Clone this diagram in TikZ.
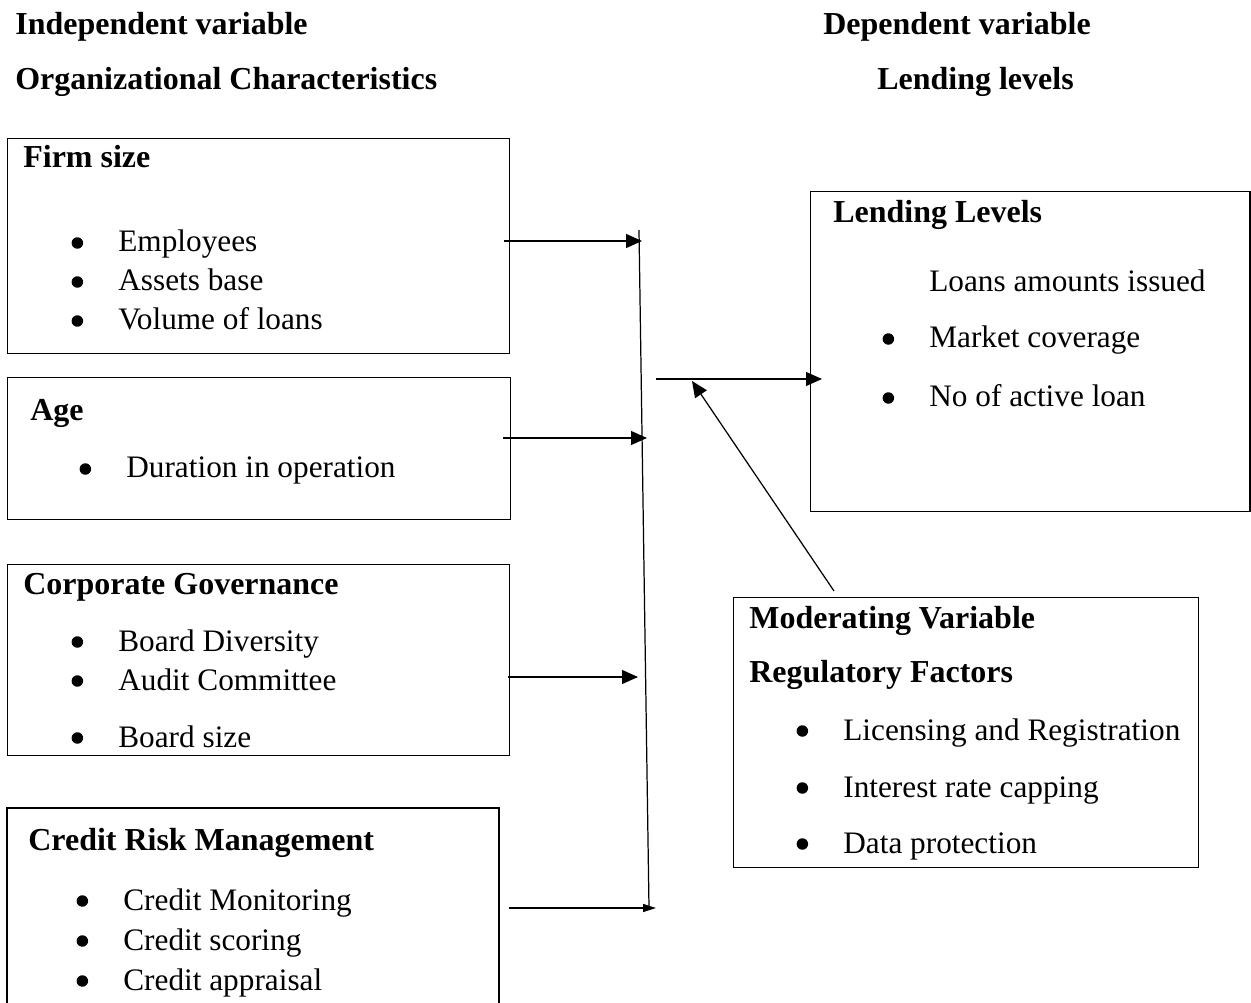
\documentclass[tikz,border=0pt]{standalone}
\usepackage{fontspec}
\setmainfont{Liberation Serif}
\usetikzlibrary{arrows.meta}
\newcommand{\bigtext}{\fontsize{17.8pt}{21pt}\selectfont}
\newcommand{\bigbold}{\fontsize{18.2pt}{21pt}\selectfont\bfseries}
\newcommand{\bul}[1]{\llap{\tikz[baseline=-0.18cm]\fill[black] (0,0) circle (0.115cm);\hspace{0.705cm}}#1}

\begin{document}
\begin{tikzpicture}[x=0.02cm, y=-0.02cm,
    box/.style={draw=black, line width=0.7pt, inner sep=0pt, anchor=north west},
    head/.style={font=\bigbold, anchor=base west, inner sep=0pt},
    txt/.style={font=\bigtext, anchor=base west, inner sep=0pt},
    arrow/.style={-{Triangle[length=0.32cm, width=0.28cm]}, line width=0.7pt},
    thinarrow/.style={-{Triangle[length=0.26cm, width=0.16cm]}, line width=0.7pt}
  ]
    \clip (0,0) rectangle (1251,1003);
    \node[head] (indep) at (15,35) {Independent variable};
    \node[head] (orgchar) at (15,90) {Organizational Characteristics};
    \node[head] (dep) at (823,35) {Dependent variable};
    \node[head] (lendhead) at (877,90) {Lending levels};
    \node[box, minimum width=10.04cm, minimum height=4.3cm] (firm) at (7,138) {};
    \node[box, minimum width=10.06cm, minimum height=2.84cm] (age) at (7,377) {};
    \node[box, minimum width=10.04cm, minimum height=3.82cm] (gov) at (7,564) {};
    \node[box, line width=1.4pt, minimum width=9.84cm, minimum height=4.2cm] (risk) at (6,807) {};
    \node[box, minimum width=8.79cm, minimum height=6.4cm] (lend) at (810,191) {};
    \node[box, minimum width=9.3cm, minimum height=5.4cm] (mod) at (733,597) {};
    \node[head] (firmt) at (23,168) {Firm size};
    \node[txt] (firm1) at (118,252) {\bul{Employees}};
    \node[txt] (firm2) at (118,291) {\bul{Assets base}};
    \node[txt] (firm3) at (118,330) {\bul{Volume of loans}};
    \node[head] (aget) at (30,420) {Age};
    \node[txt] (age1) at (126,478) {\bul{Duration in operation}};
    \node[head] (govt) at (23,594) {Corporate Governance};
    \node[txt] (gov1) at (118,651) {\bul{Board Diversity}};
    \node[txt] (gov2) at (118,690) {\bul{Audit Committee}};
    \node[txt] (gov3) at (118,747) {\bul{Board size}};
    \node[head] (riskt) at (28,850) {Credit Risk Management};
    \node[txt] (risk1) at (123,910) {\bul{Credit Monitoring}};
    \node[txt] (risk2) at (123,950) {\bul{Credit scoring}};
    \node[txt] (risk3) at (123,990) {\bul{Credit appraisal}};
    \node[head] (lendt) at (833,223) {Lending Levels};
    \node[txt] (lend1) at (929,292) {Loans amounts issued};
    \node[txt] (lend2) at (929,348) {\bul{Market coverage}};
    \node[txt] (lend3) at (929,407) {\bul{No of active loan}};
    \node[head] (modt) at (749,628) {Moderating Variable};
    \node[head] (modt2) at (749,682) {Regulatory Factors};
    \node[txt] (mod1) at (843,740) {\bul{Licensing and Registration}};
    \node[txt] (mod2) at (843,797) {\bul{Interest rate capping}};
    \node[txt] (mod3) at (843,853) {\bul{Data protection}};
    \coordinate (jtop) at (639,230);
    \coordinate (jbot) at (649,908);
    \coordinate (j1) at (642,241);
    \coordinate (j2) at (647,438);
    \coordinate (j3) at (638,677);
    \coordinate (j4) at (656,908);
    \coordinate (mid) at (656,379);
    \coordinate (modtail) at (834,591);
    \coordinate (modtip) at (692,381);
    \draw[line width=0.7pt] (jtop) -- (jbot);
    \draw[arrow] ([xshift=-0.12cm]firm.east |- j1) -- (j1);
    \draw[arrow] ([xshift=-0.16cm]age.east |- j2) -- (j2);
    \draw[arrow] ([xshift=-0.04cm]gov.east |- j3) -- (j3);
    \draw[thinarrow] ([xshift=0.18cm]risk.east |- j4) -- (j4);
    \draw[arrow] (mid) -- ([xshift=0.24cm]mid -| lend.west);
    \draw[arrow] (modtail) -- (modtip);
  \end{tikzpicture}
\end{document}
